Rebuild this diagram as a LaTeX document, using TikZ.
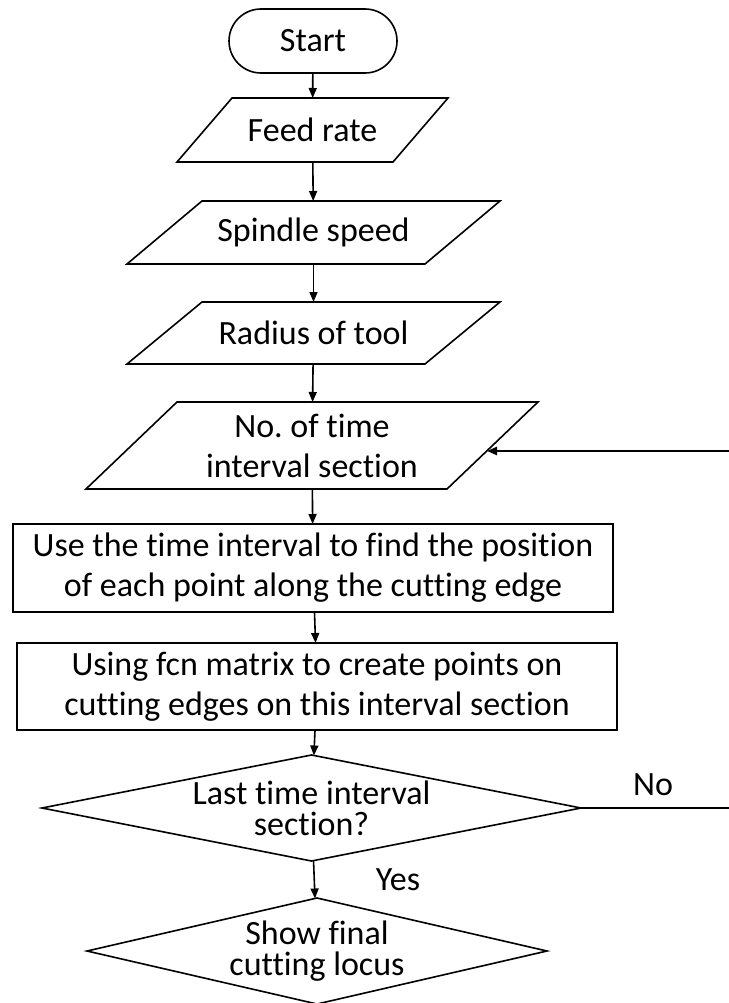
\documentclass[tikz,border=0pt]{standalone}
\usepackage{fontspec}
\setmainfont{Carlito}[Ligatures=NoCommon]
\usetikzlibrary{positioning, shapes.geometric, arrows.meta}
\tikzstyle{pixelGrid} = [x = 1pt, y = -1pt]
\tikzstyle{boxLine} = [line width=1.6pt, line join=miter]
\tikzstyle{boxText} = [font=\fontsize{34}{40}\selectfont, align=center, inner sep=0pt, outer sep=0pt]
\tikzstyle{terminalStyle} = [draw, boxLine, rounded corners=32pt, minimum width=168pt, minimum height=64pt, boxText]
\tikzstyle{processStyle} = [draw, boxLine, minimum width=600pt, boxText]
\tikzstyle{decisionStyle} = [draw, boxLine, diamond, inner sep=0pt, outer sep=0pt]
\tikzstyle{decisionText} = [font=\fontsize{34}{31}\selectfont, align=center, inner sep=0pt]
\tikzstyle{answerText} = [font=\fontsize{34}{40}\selectfont, inner sep=0pt]
\tikzstyle{flowArrow} = [line width=1.6pt, -{Triangle[length=10pt, width=8pt]}]
\tikzstyle{feedbackArrow} = [line width=2.4pt, -{Triangle[length=10pt, width=8pt]}]
\newcommand{\inputBox}[6]{
  \node [boxText, minimum width=#4pt, minimum height=#5pt] (#1) at (#2) {#3};
  \draw [boxLine] ([xshift=#6pt]#1.north west) -- (#1.north east) -- ([xshift=-#6pt]#1.south east) -- (#1.south west) -- cycle;
}
\newcommand{\processBox}[4]{\node [processStyle, minimum height=#3pt] (#1) at (#2) {#4};}
\newcommand{\decisionBox}[5]{\node [decisionStyle, minimum width=#3pt, minimum height=#4pt, label={[decisionText]center:{#5}}] (#1) at (#2) {};}

\begin{document}
\frenchspacing
\begin{tikzpicture}[pixelGrid]
  \useasboundingbox (0,0) rectangle (728,1003);

  \node [terminalStyle] (start) at (313, 41) {Start};
  \inputBox{feedRate}{312.5, 130}{Feed rate}{271}{64}{55}
  \inputBox{spindleSpeed}{313.5, 232.5}{Spindle speed}{373}{63}{75}
  \inputBox{toolRadius}{313.5, 333}{Radius of tool}{373}{62}{75}
  \inputBox{timeSection}{312, 445.5}{No. of time\\interval section}{452}{87}{91}
  \processBox{findPosition}{313, 568}{88}{Use the time interval to find the position\\of each point along the cutting edge}
  \processBox{createPoints}{317, 686.5}{87}{Using fcn matrix to create points on\\cutting edges on this interval section}
  \decisionBox{lastCheck}{311.5, 808}{539}{106}{Last time interval\\section?}
  \decisionBox{finalLocus}{317, 951}{460}{106}{Show final\\cutting locus}

  \draw [flowArrow] (start) -- (feedRate);
  \draw [flowArrow] (feedRate) -- (spindleSpeed);
  \draw [flowArrow] (spindleSpeed) -- (toolRadius);
  \draw [flowArrow] (toolRadius) -- (timeSection);
  \draw [flowArrow] (timeSection) -- (findPosition);
  \draw [flowArrow] (findPosition) -- (createPoints);
  \draw [flowArrow] (createPoints) -- (lastCheck);
  \draw [flowArrow] (lastCheck) -- (finalLocus);

  % loop back when more sections remain
  \coordinate (backTurn) at (731, 810);
  \coordinate (sectionEntry) at ([xshift=-51pt, yshift=-5.5pt]timeSection.east);
  \draw [feedbackArrow] (lastCheck.east) -- (lastCheck.east -| backTurn) -- (backTurn |- sectionEntry) -- (sectionEntry);

  \node [answerText] (noLabel) at (653, 785) {No};
  \node [answerText] (yesLabel) at (398, 880) {Yes};
\end{tikzpicture}
\end{document}
